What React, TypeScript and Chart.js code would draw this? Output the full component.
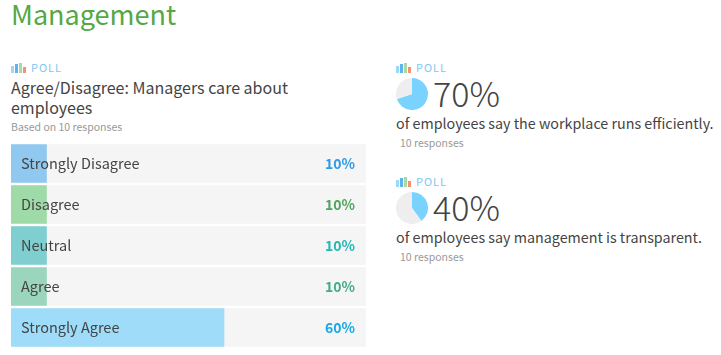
import React, { useEffect, useRef } from "react";
import { Chart, registerables } from "chart.js";

Chart.register(...registerables);

const categories = ["Strongly Disagree", "Disagree", "Neutral", "Agree", "Strongly Agree"];
const pollValues = [10, 10, 10, 10, 60];
const trackValues = [100, 100, 100, 100, 100];
const barColors = ["#90c8ef", "#9fdaa9", "#80cfd0", "#9bd5bd", "#9edcf9"];
const pctColors = ["#2f9be3", "#4da55d", "#23b8b5", "#45ab84", "#18a8e8"];
const pctLabels = pollValues.map((v) => `${v}%`);
const efficientValues = [70, 30];
const transparentValues = [40, 60];

const SANS = '"Noto Sans CJK SC", "Noto Sans", sans-serif';
const DARK = "#444444";

const fitFlat = (s: any) => {
  s.width = 0;
  s.paddingTop = 0;
  s.paddingBottom = 0;
};

function BarPanel() {
  const ref = useRef<HTMLCanvasElement>(null);
  useEffect(() => {
    const chart = new Chart(ref.current!, {
      type: "bar",
      data: {
        labels: categories,
        datasets: [
          { data: pollValues, backgroundColor: barColors, order: 1, barThickness: 38 },
          { data: trackValues, backgroundColor: "#f5f5f5", order: 2, barThickness: 38 },
        ],
      },
      options: {
        indexAxis: "y",
        animation: false,
        responsive: false,
        layout: { padding: 0 },
        datasets: { bar: { grouped: false } },
        plugins: { legend: { display: false }, tooltip: { enabled: false } },
        scales: {
          x: { min: 0, max: 100, display: false },
          y: {
            position: "left",
            grid: { display: false },
            border: { display: false },
            afterFit: fitFlat,
            ticks: {
              z: 5,
              mirror: true,
              padding: 10,
              color: DARK,
              font: { family: SANS, size: 14.5 },
            },
          },
          y2: {
            position: "right",
            type: "category",
            labels: pctLabels,
            offset: true,
            grid: { display: false },
            border: { display: false },
            afterFit: fitFlat,
            ticks: {
              z: 5,
              mirror: true,
              padding: -11,
              color: (c: any) => pctColors[c.index],
              font: { family: SANS, size: 14, weight: 700 },
            },
          },
        },
      } as any,
    });
    return () => chart.destroy();
  }, []);
  return (
    <canvas
      ref={ref}
      width={355}
      height={205}
      style={{ position: "absolute", left: 11, top: 143, width: 355, height: 205 }}
    />
  );
}

function Pie({ values, top, left }: { values: number[]; top: number; left: number }) {
  const ref = useRef<HTMLCanvasElement>(null);
  useEffect(() => {
    const chart = new Chart(ref.current!, {
      type: "pie",
      data: {
        datasets: [{ data: values, backgroundColor: ["#7ad3ff", "#eeeeee"], borderWidth: 0 }],
      },
      options: {
        animation: false,
        responsive: false,
        layout: { padding: 0 },
        plugins: { legend: { display: false }, tooltip: { enabled: false } },
      },
    });
    return () => chart.destroy();
  }, []);
  return (
    <canvas
      ref={ref}
      width={32}
      height={32}
      style={{ position: "absolute", left, top, width: 32, height: 32 }}
    />
  );
}

function Abs({ x, y, size, color, family = SANS, weight = 400, spacing, children }: any) {
  return (
    <div
      style={{
        position: "absolute",
        left: x,
        top: y,
        fontFamily: family,
        fontSize: size,
        fontWeight: weight,
        color,
        lineHeight: 1,
        whiteSpace: "nowrap",
        letterSpacing: spacing,
      }}
    >
      {children}
    </div>
  );
}

function PollTag({ x, y }: { x: number; y: number }) {
  const bars = [
    { l: 0, t: 3, h: 7, c: "#9bd9f7" },
    { l: 4, t: 1, h: 9, c: "#5fb4ea" },
    { l: 8, t: 0, h: 10, c: "#a9d8a9" },
    { l: 12, t: 4, h: 6, c: "#f59273" },
  ];
  return (
    <>
      {bars.map((b, i) => (
        <div
          key={i}
          style={{ position: "absolute", left: x + b.l, top: y + b.t, width: 3, height: b.h, background: b.c }}
        />
      ))}
      <Abs x={x + 20} y={y - 1} size={11} color="#7cc8f5" spacing={1}>POLL</Abs>
    </>
  );
}

export default function App() {
  return (
    <div style={{ position: "absolute", left: 0, top: 0, width: 721, height: 355, background: "#fff", overflow: "hidden" }}>
      <Abs x={11} y={0} size={27} color="#55a845">Management</Abs>

      <PollTag x={11} y={63} />
      <Abs x={11} y={79} size={16} color={DARK}>Agree/Disagree: Managers care about</Abs>
      <Abs x={11} y={99} size={16} color={DARK}>employees</Abs>
      <Abs x={11} y={122} size={10.5} color="#999999">Based on 10 responses</Abs>
      <BarPanel />

      <PollTag x={396} y={63} />
      <Pie values={efficientValues} left={396} top={78} />
      <Abs x={433} y={76} size={34} color={DARK} weight={300}>70%</Abs>
      <Abs x={396} y={116} size={14.3} color={DARK}>of employees say the workplace runs efficiently.</Abs>
      <Abs x={400} y={138} size={10.5} color="#999999">10 responses</Abs>

      <PollTag x={396} y={177} />
      <Pie values={transparentValues} left={396} top={192} />
      <Abs x={433} y={190} size={34} color={DARK} weight={300}>40%</Abs>
      <Abs x={396} y={230} size={14.3} color={DARK}>of employees say management is transparent.</Abs>
      <Abs x={400} y={252} size={10.5} color="#999999">10 responses</Abs>
    </div>
  );
}
